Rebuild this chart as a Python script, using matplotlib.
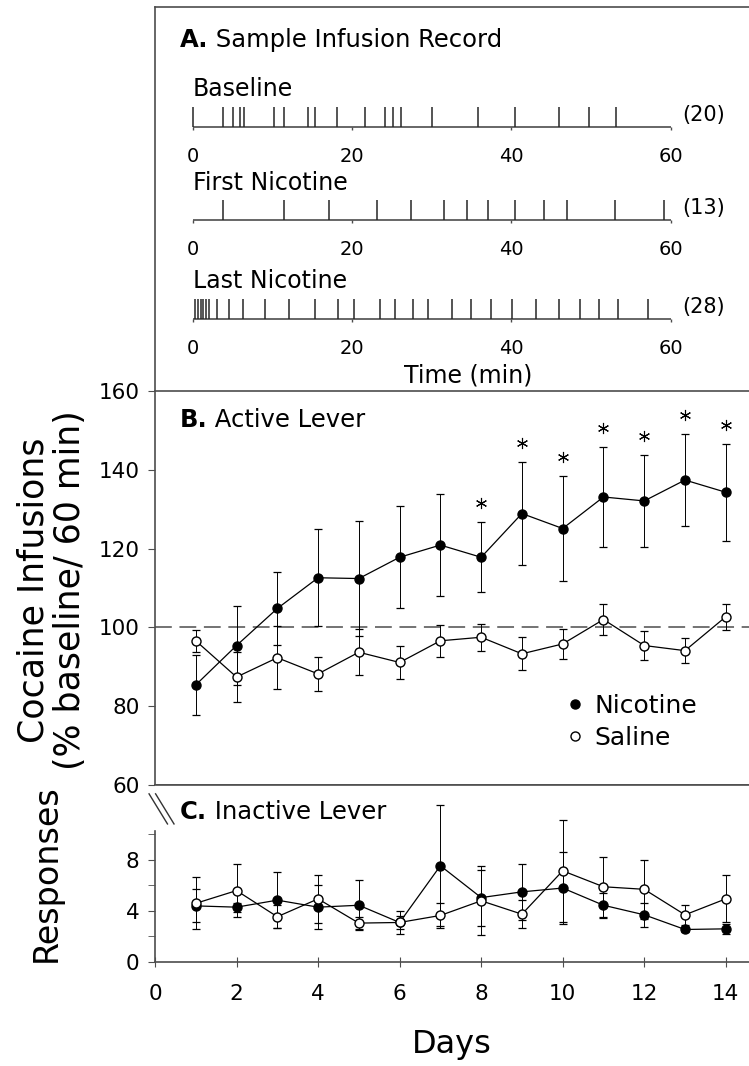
import matplotlib
matplotlib.use('Agg')
import matplotlib.pyplot as plt
from matplotlib.lines import Line2D

plt.rcParams['font.family'] = ['DejaVu Sans']

# ---- panel A: infusion times (min) ----
baseline_times = [0.1, 3.85, 5.1, 5.95, 6.5, 10.25, 11.4, 14.5, 15.35, 18.1,
                  21.6, 24.2, 25.2, 26.2, 30.1, 35.8, 40.5, 46.0, 49.8, 53.1]
first_nic_times = [3.8, 11.5, 17.1, 23.1, 27.4, 31.5, 34.4, 37.1, 40.4, 44.1,
                   47.0, 53.0, 59.2]
last_nic_times = [0.3, 0.65, 1.0, 1.35, 1.7, 2.1, 3.1, 4.5, 6.3, 9.1, 12.1,
                  15.3, 18.2, 20.25, 23.5, 25.4, 27.6, 29.6, 32.5, 34.9, 37.4,
                  40.1, 43.1, 46.0, 48.6, 51.0, 53.4, 57.2]
record_names = ['Baseline', 'First Nicotine', 'Last Nicotine']
record_counts = ['(20)', '(13)', '(28)']
time_ticks = [0, 20, 40, 60]

# ---- panel B: active lever, % baseline ----
days = list(range(1, 15))
nic_active = [85.4, 95.4, 104.8, 112.6, 112.4, 117.8, 120.9, 117.8, 128.9, 125.1,
              133.1, 132.1, 137.4, 134.3]
nic_active_sem = [7.6, 10.1, 9.2, 12.3, 14.6, 13.0, 12.9, 8.9, 13.1, 13.4,
                  12.6, 11.6, 11.6, 12.3]
sal_active = [96.6, 87.4, 92.3, 88.2, 93.7, 91.1, 96.6, 97.5, 93.3, 95.8,
              102.0, 95.4, 94.1, 102.7]
sal_active_sem = [2.8, 6.3, 8.0, 4.4, 5.8, 4.3, 4.0, 3.4, 4.2, 3.7,
                  4.0, 3.6, 3.2, 3.3]
sig_days = [8, 9, 10, 11, 12, 13, 14]

# ---- panel C: inactive lever responses ----
nic_inactive = [4.4, 4.3, 4.85, 4.3, 4.45, 3.1, 7.55, 5.05, 5.5, 5.8,
                4.45, 3.7, 2.55, 2.6]
nic_inactive_sem = [1.3, 0.35, 2.2, 1.7, 1.95, 0.5, 4.75, 2.2, 2.2, 2.8,
                    1.0, 0.95, 0.2, 0.4]
sal_inactive = [4.6, 5.6, 3.55, 4.95, 3.05, 3.1, 3.65, 4.8, 3.75, 7.15,
                5.9, 5.7, 3.7, 4.95]
sal_inactive_sem = [2.05, 2.1, 0.9, 1.9, 0.5, 0.9, 0.95, 2.7, 1.1, 4.0,
                    2.35, 2.3, 0.8, 1.85]

fig = plt.figure(figsize=(7.49, 10.66), dpi=100)
H = 1066.0
L = 155 / 749.0
W = 1.0 - L

axA = fig.add_axes([L, 1 - 391 / H, W, 384 / H])
axB = fig.add_axes([L, 1 - 785 / H, W, 394 / H])
axC = fig.add_axes([L, 1 - 962 / H, W, 177 / H])

SPINE = '0.3'

# ---------------- panel A ----------------
axA.set_xlim(-4.73, 69.83)
axA.set_ylim(391, 7)
axA.set_xticks([])
axA.set_yticks([])
for s in ['right', 'bottom']:
    axA.spines[s].set_visible(False)
for s in ['left', 'top']:
    axA.spines[s].set_linewidth(1.2)
    axA.spines[s].set_color(SPINE)

tA = axA.text(-1.6, 47, 'A.', fontsize=17.5, fontweight='bold', va='baseline')
axA.annotate(' Sample Infusion Record', xy=(1, 0), xycoords=tA,
             fontsize=17.5, va='bottom')

rows = [baseline_times, first_nic_times, last_nic_times]
line_y = [127, 220, 319]
for times, name, cnt, yl in zip(rows, record_names, record_counts, line_y):
    axA.hlines(yl, 0, 60, color=SPINE, lw=1.2)
    axA.vlines(times, yl - 20, yl, color='0.15', lw=1.1)
    axA.vlines(time_ticks, yl, yl + 3, color=SPINE, lw=1)
    for t in time_ticks:
        axA.text(t, yl + 35, str(t), fontsize=14, ha='center', va='baseline')
    axA.text(0, yl - 30.5, name, fontsize=17, ha='left', va='baseline')
    axA.text(61.5, yl - 12, cnt, fontsize=15, ha='left', va='center')
axA.text(34.6, 383, 'Time (min)', fontsize=17, ha='center', va='baseline')

# ---------------- panel B ----------------
axB.set_xlim(0, 14.57)
axB.set_ylim(60, 160)
axB.set_xticks([])
axB.set_yticks([60, 80, 100, 120, 140, 160])
axB.tick_params(axis='y', direction='out', length=5, pad=6, labelsize=15.5,
                color=SPINE)
axB.spines['right'].set_visible(False)
for s in ['left', 'top', 'bottom']:
    axB.spines[s].set_linewidth(1.2)
    axB.spines[s].set_color(SPINE)

axB.axhline(100, color=SPINE, lw=1.1, ls=(0, (11, 5)), zorder=1)
axB.errorbar(days, nic_active, yerr=nic_active_sem, fmt='-o', color='black',
             mfc='black', mec='black', ms=6.5, lw=0.9, elinewidth=0.7,
             capsize=3, capthick=0.9, zorder=3)
axB.errorbar(days, sal_active, yerr=sal_active_sem, fmt='-o', color='black',
             mfc='white', mec='black', ms=6.5, lw=0.9, elinewidth=0.7,
             capsize=3, capthick=0.9, zorder=4)
star_y = [nic_active[d - 1] + nic_active_sem[d - 1] + 4.8 for d in sig_days]
axB.plot(sig_days, star_y, ls='none', marker=(6, 2, 0), ms=8, mew=0.8,
         color='black')

tB = axB.text(0.6, 150.8, 'B.', fontsize=17.5, fontweight='bold',
              va='baseline')
axB.annotate(' Active Lever', xy=(1, 0), xycoords=tB, fontsize=17.5,
             va='bottom')

handles = [Line2D([], [], ls='none', marker='o', mfc='black', mec='black', ms=6.5),
           Line2D([], [], ls='none', marker='o', mfc='white', mec='black', ms=6.5)]
axB.legend(handles, ['Nicotine', 'Saline'], loc='upper left',
           bbox_to_anchor=(0.694, 0.232), frameon=False, fontsize=18,
           handlelength=0.6, handletextpad=0.5, labelspacing=0.33,
           borderaxespad=0, borderpad=0)

# ---------------- panel C ----------------
axC.set_xlim(0, 14.57)
axC.set_ylim(0, 13.88)
axC.set_xticks(range(0, 15, 2))
axC.set_yticks([0, 4, 8])
axC.set_yticks([2, 6, 10], minor=True)
axC.tick_params(axis='x', direction='inout', length=7, labelsize=15.5,
                pad=12.5, color=SPINE)
axC.tick_params(axis='y', which='both', direction='out', length=5, pad=6,
                labelsize=15.5, color=SPINE)
axC.spines['right'].set_visible(False)
for s in ['left', 'top', 'bottom']:
    axC.spines[s].set_linewidth(1.2)
    axC.spines[s].set_color(SPINE)
axC.spines['left'].set_bounds(0, 10.3)

axC.errorbar(days, nic_inactive, yerr=nic_inactive_sem, fmt='-o', color='black',
             mfc='black', mec='black', ms=6.5, lw=0.9, elinewidth=0.7,
             capsize=3, capthick=0.9, zorder=3)
axC.errorbar(days, sal_inactive, yerr=sal_inactive_sem, fmt='-o', color='black',
             mfc='white', mec='black', ms=6.5, lw=0.9, elinewidth=0.7,
             capsize=3, capthick=0.9, zorder=4)

# axis break marks
for dx in [0.0, 0.011]:
    axC.plot([-0.010 + dx, 0.021 + dx], [0.95, 0.78],
             transform=axC.transAxes, color='0.2', lw=1, clip_on=False)

tC = axC.text(0.6, 11.2, 'C.', fontsize=17.5, fontweight='bold',
              va='baseline')
axC.annotate(' Inactive Lever', xy=(1, 0), xycoords=tC, fontsize=17.5,
             va='bottom')

axC.set_xlabel('Days', fontsize=23, labelpad=18)

fig.text(52 / 749, 1 - 590 / H, 'Cocaine Infusions\n(% baseline/ 60 min)',
         rotation=90, ha='center', va='center', fontsize=25,
         multialignment='center', linespacing=1.1)
fig.text(46 / 749, 1 - 873 / H, 'Responses', rotation=90, ha='center',
         va='center', fontsize=24)

fig.savefig('out.png', dpi=100)
